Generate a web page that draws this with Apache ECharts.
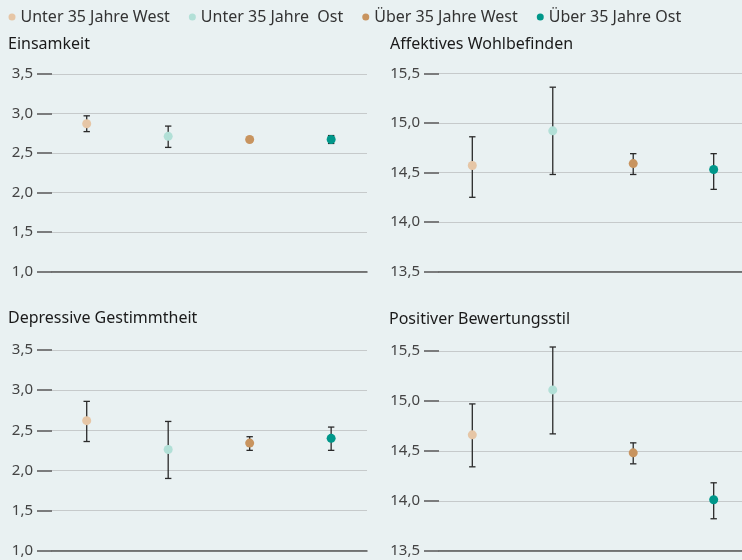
<!DOCTYPE html>
<html><head><meta charset="utf-8">
<script src="https://cdn.jsdelivr.net/npm/echarts@6/dist/echarts.min.js"></script>
<style>html,body{margin:0;padding:0;background:#e9f1f2;}#c{width:742px;height:560px;}</style>
</head><body><div id="c"></div>
<script>
const groups = ['Unter 35 Jahre West', 'Unter 35 Jahre  Ost', 'Über 35 Jahre West', 'Über 35 Jahre Ost'];
const groupColors = ['#e6c6a6', '#b2e0d7', '#c8945f', '#00978a'];
const panelTitles = ['Einsamkeit', 'Affektives Wohlbefinden', 'Depressive Gestimmtheit', 'Positiver Bewertungsstil'];

const einsamkeitMean = [2.87, 2.71, 2.67, 2.67];
const einsamkeitLow  = [2.77, 2.57, 2.65, 2.62];
const einsamkeitHigh = [2.97, 2.84, 2.69, 2.72];

const affektivMean = [14.57, 14.92, 14.59, 14.53];
const affektivLow  = [14.25, 14.48, 14.48, 14.33];
const affektivHigh = [14.86, 15.36, 14.69, 14.69];

const depressivMean = [2.62, 2.26, 2.34, 2.40];
const depressivLow  = [2.36, 1.90, 2.25, 2.25];
const depressivHigh = [2.86, 2.61, 2.42, 2.54];

const positivMean = [14.66, 15.11, 14.48, 14.01];
const positivLow  = [14.34, 14.67, 14.37, 13.82];
const positivHigh = [14.97, 15.54, 14.58, 14.18];

const scaleLow  = {min: 1.0, max: 3.5, interval: 0.5};
const scaleHigh = {min: 13.5, max: 15.5, interval: 0.5};

const panelData = [
  {mean: einsamkeitMean, low: einsamkeitLow, high: einsamkeitHigh, scale: scaleLow},
  {mean: affektivMean, low: affektivLow, high: affektivHigh, scale: scaleHigh},
  {mean: depressivMean, low: depressivLow, high: depressivHigh, scale: scaleLow},
  {mean: positivMean, low: positivLow, high: positivHigh, scale: scaleHigh}
];

const FONT = '"Noto Sans", sans-serif';
const grids = [
  {left: 52, right: 375, top: 74, height: 197.3, xmin: 0.574, xmax: 4.44},
  {left: 439, right: 0, top: 73.3, height: 198.4, xmin: 0.586, xmax: 4.352},
  {left: 52, right: 375, top: 350, height: 200.7, xmin: 0.574, xmax: 4.44},
  {left: 439, right: 0, top: 351, height: 199.7, xmin: 0.586, xmax: 4.352}
];
const titlePos = [[8, 36], [390, 36], [8, 310], [389, 311]];

const chart = echarts.init(document.getElementById('c'));
const option = {
  backgroundColor: '#e9f1f2',
  animation: false,
  textStyle: {fontFamily: FONT},
  title: panelTitles.map((t, i) => ({
    text: t, left: titlePos[i][0], top: titlePos[i][1], padding: 0,
    textStyle: {fontFamily: FONT, fontSize: 16, fontWeight: 'normal', color: '#1a1a1a'}
  })),
  legend: {
    data: groups, left: 8.5, top: 9, padding: 0, icon: 'circle', itemWidth: 7, itemHeight: 7, itemGap: 19,
    textStyle: {fontFamily: FONT, fontSize: 16, color: '#333'}
  },
  grid: grids.map(g => ({left: g.left, right: g.right, top: g.top, height: g.height, containLabel: false})),
  xAxis: grids.map((g, i) => ({
    type: 'value', gridIndex: i, min: g.xmin, max: g.xmax,
    axisLabel: {show: false}, axisTick: {show: false}, splitLine: {show: false},
    axisLine: {show: true, lineStyle: {color: '#555', width: 1.5}}
  })),
  yAxis: panelData.map((p, i) => ({
    type: 'value', gridIndex: i, min: p.scale.min, max: p.scale.max, interval: p.scale.interval,
    axisLine: {show: false},
    axisTick: {show: true, length: 15, lineStyle: {color: '#5f5f5f', width: 1.6}},
    splitLine: {show: true, lineStyle: {color: '#c6cacb', width: 1.2}},
    axisLabel: {margin: 19, fontFamily: FONT, fontSize: 15, color: '#444',
      formatter: v => v.toFixed(1).replace('.', ',')}
  })),
  series: []
};

panelData.forEach((p, pi) => {
  option.series.push({
    type: 'custom', xAxisIndex: pi, yAxisIndex: pi, z: 3, silent: true,
    data: p.mean.map((m, gi) => [gi + 1, p.low[gi], p.high[gi]]),
    encode: {x: 0, y: [1, 2]},
    renderItem: (params, api) => {
      const x = api.value(0);
      const lo = api.coord([x, api.value(1)]);
      const hi = api.coord([x, api.value(2)]);
      const w = 3.2;
      const st = {stroke: '#2a2a2a', lineWidth: 1.3};
      return {type: 'group', children: [
        {type: 'line', shape: {x1: lo[0], y1: lo[1], x2: hi[0], y2: hi[1]}, style: st},
        {type: 'line', shape: {x1: lo[0] - w, y1: lo[1], x2: lo[0] + w, y2: lo[1]}, style: st},
        {type: 'line', shape: {x1: hi[0] - w, y1: hi[1], x2: hi[0] + w, y2: hi[1]}, style: st}
      ]};
    }
  });
  groups.forEach((g, gi) => {
    option.series.push({
      type: 'scatter', name: g, xAxisIndex: pi, yAxisIndex: pi, z: 5,
      symbolSize: 9, itemStyle: {color: groupColors[gi], opacity: 1},
      data: [[gi + 1, p.mean[gi]]]
    });
  });
});

chart.setOption(option);
</script></body></html>
